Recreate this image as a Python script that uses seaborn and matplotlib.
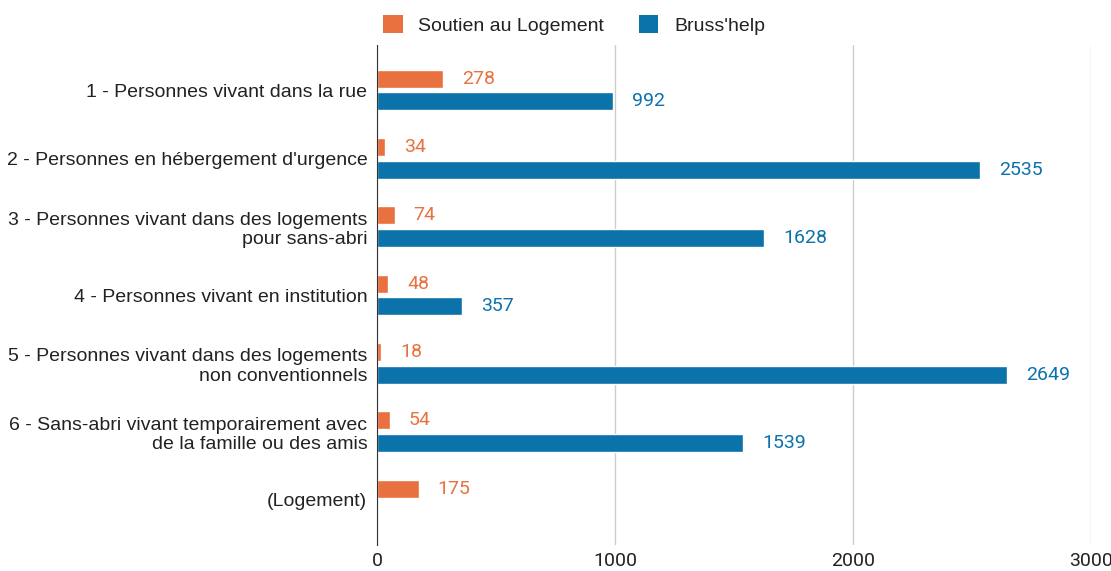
import pandas as pd
import numpy as np
import matplotlib
matplotlib.use("Agg")
import matplotlib.pyplot as plt
import seaborn as sns
from matplotlib.patches import Patch

categories = [
    "1 - Personnes vivant dans la rue",
    "2 - Personnes en hébergement d'urgence",
    "3 - Personnes vivant dans des logements\npour sans-abri",
    "4 - Personnes vivant en institution",
    "5 - Personnes vivant dans des logements\nnon conventionnels",
    "6 - Sans-abri vivant temporairement avec\nde la famille ou des amis",
    "(Logement)",
]
soutien = [278, 34, 74, 48, 18, 54, 175]
brusshelp = [992, 2535, 1628, 357, 2649, 1539, np.nan]
series = ["Soutien au Logement", "Bruss'help"]
colors = ["#E8713F", "#0B72AA"]
xticks = [0, 1000, 2000, 3000]


def main():
    sns.set_style("white")
    plt.rcParams["font.family"] = ["Roboto", "DejaVu Sans"]
    arial = ["Liberation Sans", "DejaVu Sans"]

    df = pd.DataFrame({
        "cat": categories * 2,
        "serie": [series[0]] * len(categories) + [series[1]] * len(categories),
        "val": soutien + brusshelp,
    })

    fig = plt.figure(figsize=(11.11, 5.71), dpi=100)
    ax = fig.add_axes([377 / 1111, 1 - 545 / 571, 714 / 1111, 500 / 571])

    sns.barplot(data=df, y="cat", x="val", hue="serie", order=categories,
                hue_order=series, palette=colors, saturation=1, orient="h",
                width=0.66, gap=0.2, legend=False, ax=ax, zorder=3)

    # value labels next to bars
    for cont, col in zip(ax.containers, colors):
        for bar in cont:
            w = bar.get_width()
            if np.isnan(w):
                continue
            ax.annotate(f"{int(w)}", (w, bar.get_y() + bar.get_height() / 2),
                        xytext=(13.5, 0), textcoords="offset points",
                        ha="left", va="center", color=col, fontsize=14)

    ax.set_xlim(0, 3000)
    ax.set_ylim(len(categories) - 1 + 0.66, -0.66)
    ax.set_xticks(xticks)
    ax.set_xticklabels([str(x) for x in xticks])
    ax.xaxis.grid(True, color="#cccccc", linewidth=1, zorder=0)
    ax.set_axisbelow(True)
    ax.set_xlabel("")
    ax.set_ylabel("")
    for s in ["top", "right", "bottom"]:
        ax.spines[s].set_visible(False)
    ax.spines["left"].set_color("#333333")
    ax.spines["left"].set_zorder(4)
    ax.tick_params(axis="both", length=0, labelsize=14, colors="#222222")
    ax.tick_params(axis="y", pad=7)
    ax.tick_params(axis="x", pad=5)
    for t in ax.get_yticklabels():
        t.set_family(arial)
        t.set_fontsize(14)
        t.set_multialignment("right")
        t.set_linespacing(1.2)

    handles = [Patch(facecolor=c, edgecolor="none") for c in colors]
    fig.legend(handles, series, loc="center", bbox_to_anchor=(574 / 1111, 1 - 25 / 571),
               ncol=2, frameon=False, prop={"family": arial, "size": 14},
               handlelength=1.0, handleheight=1.0, handletextpad=0.8,
               columnspacing=1.8, labelcolor="#222222")

    fig.savefig("out.png", dpi=100)


if __name__ == "__main__":
    main()
